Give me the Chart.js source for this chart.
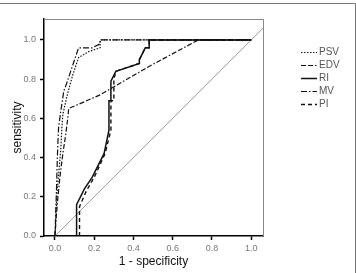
<!DOCTYPE html>
<html>
<head>
<meta charset="utf-8">
<script src="https://cdn.jsdelivr.net/npm/chart.js@4"></script>
<style>
    html, body { margin: 0; padding: 0; background: #fff; }
    canvas { display: block; }
</style>
</head>
<body>
<canvas id="rocChart" width="356" height="273"></canvas>
<script>
// ROC curves
var psvX = [0, 0.005, 0.01, 0.02, 0.03, 0.035, 0.04, 0.06, 0.09, 0.12, 0.17, 0.23, 0.23, 1.0];
var psvY = [0, 0.1, 0.22, 0.33, 0.45, 0.55, 0.62, 0.71, 0.82, 0.91, 0.94, 0.96, 1.0, 1.0];

var edvX = [0, 0.005, 0.015, 0.025, 0.04, 0.055, 0.065, 0.07, 0.23, 0.47, 0.73, 1.0];
var edvY = [0, 0.08, 0.2, 0.3, 0.42, 0.52, 0.6, 0.65, 0.72, 0.86, 1.0, 1.0];

var riX = [0.11, 0.11, 0.15, 0.19, 0.25, 0.275, 0.275, 0.285, 0.285, 0.31, 0.43, 0.43, 0.46, 0.48, 0.48, 1.0];
var riY = [0, 0.16, 0.24, 0.3, 0.42, 0.54, 0.69, 0.69, 0.79, 0.84, 0.88, 0.9, 0.96, 0.96, 1.0, 1.0];

var mvX = [0, 0.003, 0.008, 0.012, 0.018, 0.03, 0.045, 0.06, 0.09, 0.12, 0.19, 0.23, 0.23, 1.0];
var mvY = [0, 0.1, 0.25, 0.4, 0.55, 0.64, 0.74, 0.78, 0.87, 0.96, 0.96, 0.98, 1.0, 1.0];

var piX = [0.125, 0.125, 0.16, 0.2, 0.255, 0.285, 0.285, 0.3, 0.3, 0.31, 0.43, 0.43, 0.46, 0.48, 0.48, 1.0];
var piY = [0, 0.15, 0.23, 0.3, 0.42, 0.54, 0.69, 0.69, 0.8, 0.84, 0.88, 0.9, 0.96, 0.96, 1.0, 1.0];

// reference diagonal
var refX = [0, 1.06];
var refY = [0, 1.06];

var tickValues = [0, 0.2, 0.4, 0.6, 0.8, 1.0];
var seriesNames = ['PSV', 'EDV', 'RI', 'MV', 'PI'];

function toPoints(xs, ys) {
    return xs.map(function(x, i) { return { x: x, y: ys[i] }; });
}

function curve(label, xs, ys, dash, width) {
    return {
        label: label,
        data: toPoints(xs, ys),
        showLine: true,
        pointRadius: 0,
        borderColor: '#111',
        borderWidth: width,
        borderDash: dash,
        fill: false,
        tension: 0
    };
}

var datasets = [
    curve(seriesNames[0], psvX, psvY, [1.5, 1.5], 1.2),
    curve(seriesNames[1], edvX, edvY, [5, 2, 5, 2, 1.5, 2], 1.2),
    curve(seriesNames[2], riX, riY, [], 1.5),
    curve(seriesNames[3], mvX, mvY, [6, 2, 1.5, 2], 1.2),
    curve(seriesNames[4], piX, piY, [4, 3], 1.4)
];
datasets.push({
    label: 'ref',
    data: toPoints(refX, refY),
    showLine: true,
    pointRadius: 0,
    borderColor: '#999',
    borderWidth: 1,
    fill: false
});

// gray box top/right, outer frame
var frame = {
    id: 'frame',
    beforeDatasetsDraw: function(chart) {
        var a = chart.chartArea, ctx = chart.ctx;
        ctx.save();
        ctx.strokeStyle = '#888';
        ctx.lineWidth = 1;
        ctx.beginPath();
        ctx.moveTo(a.left, a.top + 0.5);
        ctx.lineTo(a.right + 0.5, a.top + 0.5);
        ctx.lineTo(a.right + 0.5, a.bottom);
        ctx.stroke();
        ctx.restore();
    },
    afterDraw: function(chart) {
        var ctx = chart.ctx;
        ctx.save();
        ctx.strokeStyle = '#777';
        ctx.lineWidth = 1;
        ctx.beginPath();
        ctx.moveTo(0, 3.5);
        ctx.lineTo(355.5, 3.5);
        ctx.lineTo(355.5, 273);
        ctx.stroke();
        ctx.restore();
    }
};

var rocLegend = {
    id: 'rocLegend',
    afterDraw: function(chart) {
        var ctx = chart.ctx;
        var x0 = 301, y0 = 52, rowH = 13;
        ctx.save();
        ctx.font = '10px "Liberation Sans", Arial, sans-serif';
        ctx.textBaseline = 'middle';
        ctx.fillStyle = '#555';
        seriesNames.forEach(function(name, i) {
            var ds = chart.data.datasets[i];
            var y = y0 + i * rowH + 0.5;
            ctx.strokeStyle = ds.borderColor;
            ctx.lineWidth = ds.borderWidth;
            ctx.setLineDash(ds.borderDash);
            ctx.beginPath();
            ctx.moveTo(x0, y);
            ctx.lineTo(x0 + 16, y);
            ctx.stroke();
            ctx.setLineDash([]);
            ctx.fillText(name, x0 + 18, y);
        });
        ctx.restore();
    }
};

var tickFont = { family: '"Liberation Sans", Arial, sans-serif', size: 9 };
var titleFont = { family: '"Liberation Sans", Arial, sans-serif', size: 12 };

function setTicks(scale) {
    scale.ticks = tickValues.map(function(v) { return { value: v }; });
}

new Chart(document.getElementById('rocChart'), {
    type: 'scatter',
    data: { datasets: datasets },
    options: {
        responsive: false,
        animation: false,
        devicePixelRatio: 1,
        layout: { padding: { left: 0, top: 19, right: 93, bottom: 0 } },
        plugins: {
            legend: { display: false },
            tooltip: { enabled: false }
        },
        scales: {
            x: {
                type: 'linear',
                min: -0.056,
                max: 1.06,
                afterBuildTicks: setTicks,
                afterFit: function(scale) { scale.height = 37; },
                ticks: {
                    font: tickFont,
                    color: '#777',
                    padding: 3,
                    maxRotation: 0,
                    callback: function(v) { return v.toFixed(1); }
                },
                grid: { drawOnChartArea: false, tickLength: 4, color: '#000', tickWidth: 1.5 },
                border: { color: '#000', width: 1.5 },
                title: { display: true, text: '1 - specificity', font: titleFont, color: '#111', padding: { top: 2, bottom: 4 } }
            },
            y: {
                type: 'linear',
                min: 0,
                max: 1.107,
                afterBuildTicks: setTicks,
                afterFit: function(scale) { scale.width = 44; },
                ticks: {
                    font: tickFont,
                    color: '#777',
                    padding: 4,
                    callback: function(v) { return v.toFixed(1); }
                },
                grid: { drawOnChartArea: false, tickLength: 4, color: '#000', tickWidth: 1.5 },
                border: { color: '#000', width: 1.5 },
                title: { display: true, text: 'sensitivity', font: titleFont, color: '#111', padding: { top: 10, bottom: 4 } }
            }
        }
    },
    plugins: [frame, rocLegend]
});
</script>
</body>
</html>
